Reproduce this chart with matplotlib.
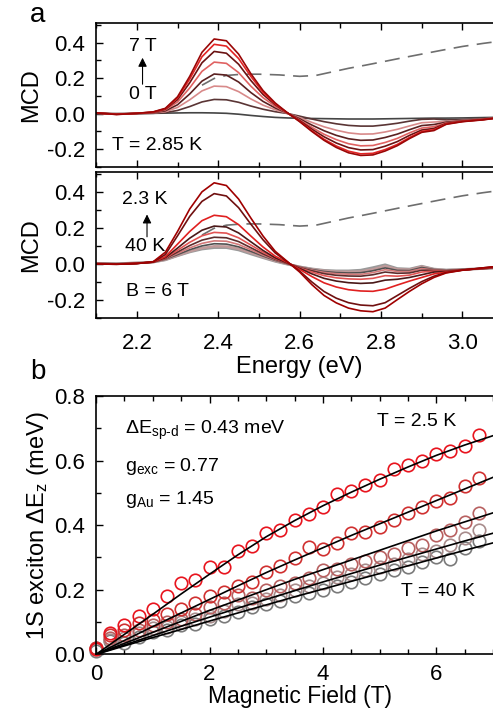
import numpy as np
import matplotlib
matplotlib.use("Agg")
import matplotlib.pyplot as plt
from matplotlib.ticker import MultipleLocator

plt.rcParams['font.family'] = ['Liberation Sans', 'DejaVu Sans']
plt.rcParams['mathtext.fontset'] = 'custom'
plt.rcParams['mathtext.rm'] = 'Liberation Sans'
plt.rcParams['mathtext.it'] = 'Liberation Sans:italic'

# ---- data ----
energy = [2.10, 2.15, 2.20, 2.24, 2.27, 2.30, 2.33, 2.36, 2.39, 2.42, 2.45,
          2.48, 2.51, 2.54, 2.57, 2.60, 2.63, 2.66, 2.69, 2.72, 2.75, 2.78,
          2.81, 2.84, 2.87, 2.90, 2.93, 2.96, 3.00, 3.05, 3.10]

# panel a, T = 2.85 K, B = 0 ... 7 T
mcd_0T = [0.0, 0.0, 0.0, 0.002, 0.003, 0.004, 0.005, 0.005, 0.004, 0.002, -0.003,
          -0.01, -0.016, -0.021, -0.024, -0.026, -0.027, -0.028, -0.029, -0.03, -0.03, -0.03,
          -0.029, -0.028, -0.027, -0.026, -0.025, -0.025, -0.024, -0.022, -0.02]
mcd_1T = [0.001, 0.0, 0.001, 0.002, 0.006, 0.018, 0.04, 0.066, 0.08, 0.078, 0.064,
          0.043, 0.025, 0.011, 0.001, -0.014, -0.03, -0.045, -0.057, -0.066, -0.07, -0.07,
          -0.063, -0.054, -0.042, -0.032, -0.03, -0.035, -0.033, -0.028, -0.02]
mcd_2T = [0.002, -0.001, 0.001, 0.004, 0.011, 0.035, 0.078, 0.128, 0.155, 0.152, 0.124,
          0.083, 0.048, 0.022, 0.002, -0.022, -0.049, -0.074, -0.093, -0.108, -0.115, -0.114,
          -0.103, -0.088, -0.069, -0.051, -0.047, -0.044, -0.038, -0.03, -0.02]
mcd_3T = [0.003, -0.002, 0.001, 0.005, 0.016, 0.05, 0.111, 0.183, 0.223, 0.217, 0.178,
          0.119, 0.069, 0.032, 0.003, -0.029, -0.064, -0.096, -0.122, -0.141, -0.15, -0.148,
          -0.134, -0.115, -0.09, -0.067, -0.061, -0.048, -0.04, -0.031, -0.02]
mcd_4T = [0.003, -0.002, 0.001, 0.007, 0.021, 0.066, 0.145, 0.238, 0.29, 0.283, 0.231,
          0.155, 0.09, 0.041, 0.003, -0.035, -0.077, -0.116, -0.146, -0.169, -0.181, -0.179,
          -0.162, -0.139, -0.108, -0.081, -0.073, -0.052, -0.042, -0.032, -0.02]
mcd_5T = [0.004, -0.003, 0.002, 0.008, 0.025, 0.079, 0.174, 0.286, 0.35, 0.34, 0.278,
          0.187, 0.108, 0.05, 0.004, -0.039, -0.087, -0.13, -0.165, -0.191, -0.204, -0.202,
          -0.183, -0.157, -0.122, -0.092, -0.083, -0.055, -0.043, -0.033, -0.02]
mcd_6T = [0.004, -0.004, 0.002, 0.009, 0.028, 0.088, 0.195, 0.32, 0.39, 0.38, 0.31,
          0.21, 0.12, 0.055, 0.004, -0.043, -0.096, -0.144, -0.182, -0.211, -0.226, -0.223,
          -0.202, -0.173, -0.134, -0.1, -0.09, -0.058, -0.044, -0.034, -0.02]
mcd_7T = [0.005, -0.005, 0.002, 0.01, 0.03, 0.095, 0.21, 0.345, 0.42, 0.41, 0.335,
          0.225, 0.13, 0.06, 0.005, -0.045, -0.1, -0.15, -0.19, -0.22, -0.235, -0.232,
          -0.21, -0.18, -0.14, -0.105, -0.095, -0.06, -0.045, -0.035, -0.02]
field_curves = [mcd_0T, mcd_1T, mcd_2T, mcd_3T, mcd_4T, mcd_5T, mcd_6T, mcd_7T]
field_colors = ['#454545', '#5a3535', '#d88a8a', '#5a2020', '#e06262',
                '#6a1212', '#e22424', '#9a0606']

# panel a, B = 6 T, T = 2.3 K ... 40 K
mcd_t1 = [0.0, -0.002, 0.002, 0.012, 0.065, 0.18, 0.305, 0.40, 0.45, 0.435, 0.36,
          0.255, 0.155, 0.07, 0.013, -0.045, -0.115, -0.175, -0.216, -0.245, -0.26, -0.265,
          -0.245, -0.198, -0.152, -0.11, -0.075, -0.05, -0.035, -0.022, -0.01]
mcd_t2 = [0.0, -0.002, 0.002, 0.011, 0.052, 0.156, 0.264, 0.347, 0.39, 0.377, 0.312,
          0.221, 0.134, 0.061, 0.011, -0.04, -0.1, -0.153, -0.19, -0.215, -0.228, -0.232,
          -0.215, -0.175, -0.135, -0.098, -0.068, -0.048, -0.034, -0.022, -0.01]
mcd_t3 = [0.0, -0.001, 0.003, 0.01, 0.04, 0.11, 0.18, 0.24, 0.27, 0.262, 0.218,
          0.155, 0.094, 0.043, 0.008, -0.03, -0.07, -0.105, -0.128, -0.143, -0.15, -0.152,
          -0.14, -0.117, -0.095, -0.075, -0.055, -0.045, -0.034, -0.024, -0.012]
mcd_t4 = [0.001, -0.001, 0.003, 0.01, 0.035, 0.088, 0.143, 0.187, 0.21, 0.205, 0.172,
          0.123, 0.075, 0.034, 0.005, -0.025, -0.055, -0.08, -0.095, -0.104, -0.108, -0.105,
          -0.09, -0.085, -0.075, -0.06, -0.045, -0.042, -0.034, -0.025, -0.014]
mcd_t5 = [0.002, -0.001, 0.004, 0.01, 0.032, 0.076, 0.12, 0.156, 0.175, 0.171, 0.145,
          0.105, 0.065, 0.03, 0.004, -0.022, -0.045, -0.065, -0.077, -0.083, -0.085, -0.08,
          -0.065, -0.068, -0.062, -0.045, -0.04, -0.04, -0.033, -0.026, -0.016]
mcd_t6 = [0.002, 0.0, 0.004, 0.01, 0.03, 0.066, 0.102, 0.132, 0.148, 0.145, 0.124,
          0.09, 0.056, 0.026, 0.003, -0.02, -0.038, -0.054, -0.063, -0.067, -0.068, -0.06,
          -0.045, -0.052, -0.05, -0.035, -0.036, -0.038, -0.032, -0.026, -0.017]
mcd_t7 = [0.003, 0.0, 0.005, 0.01, 0.028, 0.058, 0.089, 0.114, 0.128, 0.126, 0.108,
          0.079, 0.049, 0.023, 0.002, -0.018, -0.034, -0.047, -0.054, -0.057, -0.058, -0.048,
          -0.032, -0.042, -0.042, -0.026, -0.033, -0.037, -0.032, -0.026, -0.018]
mcd_t8 = [0.003, 0.001, 0.005, 0.01, 0.026, 0.052, 0.079, 0.1, 0.112, 0.11, 0.095,
          0.07, 0.044, 0.02, 0.001, -0.017, -0.031, -0.042, -0.048, -0.05, -0.049, -0.038,
          -0.022, -0.036, -0.037, -0.02, -0.031, -0.036, -0.031, -0.026, -0.019]
mcd_t9 = [0.004, 0.001, 0.006, 0.01, 0.024, 0.047, 0.07, 0.088, 0.098, 0.097, 0.084,
          0.062, 0.039, 0.017, 0.0, -0.016, -0.029, -0.038, -0.043, -0.044, -0.042, -0.03,
          -0.012, -0.03, -0.032, -0.015, -0.03, -0.035, -0.031, -0.026, -0.02]
mcd_t10 = [0.004, 0.002, 0.006, 0.01, 0.022, 0.045, 0.066, 0.082, 0.09, 0.09, 0.077,
           0.055, 0.034, 0.014, -0.002, -0.016, -0.027, -0.035, -0.038, -0.038, -0.034, -0.02,
           -0.004, -0.025, -0.028, -0.012, -0.028, -0.033, -0.03, -0.026, -0.021]
temp_curves = [mcd_t1, mcd_t2, mcd_t3, mcd_t4, mcd_t5, mcd_t6, mcd_t7,
               mcd_t8, mcd_t9, mcd_t10]
temp_colors = ['#a00000', '#701010', '#e02020', '#4a1818', '#e25454',
               '#5c2c2c', '#d47a7a', '#505050', '#c09a9a', '#9a9a9a']

# dashed absorption-like trace
abs_energy = [2.36, 2.39, 2.42, 2.46, 2.50, 2.55, 2.60, 2.64, 2.68, 2.72, 2.76,
              2.80, 2.85, 2.90, 2.95, 3.00, 3.05, 3.10]
abs_value = [0.16, 0.198, 0.215, 0.222, 0.222, 0.218, 0.21, 0.215, 0.235, 0.255, 0.272,
             0.29, 0.313, 0.335, 0.357, 0.378, 0.395, 0.41]

# panel b
field = [0, 0.25, 0.5, 0.75, 1.0, 1.25, 1.5, 1.75, 2.0, 2.25, 2.5, 2.75, 3.0, 3.25,
         3.5, 3.75, 4.0, 4.25, 4.5, 4.75, 5.0, 5.25, 5.5, 5.75, 6.0, 6.25, 6.5, 6.75]
dez_1 = [0.015, 0.065, 0.09, 0.12, 0.14, 0.18, 0.22, 0.23, 0.27, 0.27, 0.32, 0.335,
         0.375, 0.385, 0.415, 0.435, 0.455, 0.495, 0.505, 0.525, 0.54, 0.575, 0.585,
         0.60, 0.62, 0.63, 0.645, 0.68]
dez_2 = [0.02, 0.06, 0.075, 0.096, 0.106, 0.125, 0.14, 0.158, 0.18, 0.194, 0.21, 0.225,
         0.254, 0.274, 0.297, 0.331, 0.325, 0.344, 0.375, 0.38, 0.395, 0.416, 0.439,
         0.457, 0.475, 0.483, 0.522, 0.547]
dez_3 = [0.02, 0.05, 0.06, 0.075, 0.09, 0.1, 0.11, 0.125, 0.145, 0.16, 0.185, 0.175,
         0.2, 0.21, 0.22, 0.235, 0.26, 0.265, 0.28, 0.29, 0.3, 0.31, 0.33, 0.34, 0.37,
         0.385, 0.41, 0.437]
dez_4 = [0.015, 0.045, 0.05, 0.065, 0.08, 0.085, 0.1, 0.11, 0.12, 0.135, 0.155, 0.16,
         0.17, 0.185, 0.2, 0.21, 0.22, 0.24, 0.25, 0.26, 0.27, 0.28, 0.295, 0.31, 0.32,
         0.34, 0.36, 0.385]
dez_5 = [0.01, 0.04, 0.035, 0.055, 0.07, 0.075, 0.09, 0.095, 0.11, 0.12, 0.13, 0.145,
         0.155, 0.165, 0.18, 0.19, 0.2, 0.21, 0.225, 0.235, 0.25, 0.26, 0.27, 0.285, 0.3,
         0.295, 0.33, 0.35]
dez_series = [dez_1, dez_2, dez_3, dez_4, dez_5]
dez_colors = ['#e8141e', '#d03030', '#b86060', '#a88c8c', '#7a7a7a']

fit_field = [0, 0.5, 1, 1.5, 2, 2.5, 3, 3.5, 4, 4.5, 5, 5.5, 6, 6.5, 7, 7.2]
fit_1 = [0, 0.062, 0.124, 0.187, 0.248, 0.308, 0.364, 0.414, 0.46, 0.502, 0.542,
         0.58, 0.616, 0.648, 0.677, 0.688]
fit_2 = [0, 0.043, 0.086, 0.128, 0.17, 0.212, 0.253, 0.292, 0.33, 0.368, 0.404,
         0.44, 0.476, 0.512, 0.548, 0.562]
fit_3 = [0, 0.034, 0.068, 0.102, 0.136, 0.168, 0.2, 0.232, 0.262, 0.292, 0.322,
         0.352, 0.382, 0.41, 0.438, 0.45]
fit_4 = [0, 0.029, 0.058, 0.087, 0.115, 0.143, 0.17, 0.197, 0.224, 0.25, 0.276,
         0.301, 0.326, 0.351, 0.375, 0.385]
fit_5 = [0, 0.026, 0.052, 0.077, 0.103, 0.128, 0.153, 0.178, 0.202, 0.226, 0.25,
         0.274, 0.298, 0.322, 0.345, 0.354]
fits = [fit_1, fit_2, fit_3, fit_4, fit_5]

# ---- figure ----
fig = plt.figure(figsize=(4.93, 7.14), dpi=100)
left, width = 0.195, 0.8256
ax1 = fig.add_axes([left, 0.7661, width, 0.2017])
ax2 = fig.add_axes([left, 0.5546, width, 0.2045])
ax3 = fig.add_axes([left, 0.0836, width, 0.3618])

TICK = 16
LAB = 17
ANN = 14


def style(ax):
    ax.tick_params(which='both', direction='in', top=True, right=True,
                   labelsize=TICK, width=1.0)
    ax.tick_params(axis='y', which='both', pad=8)
    ax.tick_params(axis='x', which='both', pad=8)
    ax.tick_params(which='major', length=5)
    ax.tick_params(which='minor', length=3.5)
    for s in ax.spines.values():
        s.set_linewidth(1.2)


for ax in (ax1, ax2):
    ax.set_xlim(2.1, 3.1)
    ax.set_ylim(-0.3, 0.51)
    ax.xaxis.set_major_locator(MultipleLocator(0.2))
    ax.xaxis.set_minor_locator(MultipleLocator(0.1))
    ax.yaxis.set_major_locator(MultipleLocator(0.2))
    ax.yaxis.set_minor_locator(MultipleLocator(0.1))
    ax.set_yticks([-0.2, 0.0, 0.2, 0.4])
    ax.set_yticklabels(['-0.2', '0.0', '0.2', '0.4'])
    ax.set_ylabel('MCD', fontsize=LAB, labelpad=3)
    style(ax)
    ax.plot(abs_energy, abs_value, color='#6e6e6e', lw=1.2, dashes=(9, 5))

ax1.tick_params(labelbottom=False)

for y, c in zip(field_curves, field_colors):
    ax1.plot(energy, y, color=c, lw=1.2)
for i, (y, c) in enumerate(zip(temp_curves[::-1], temp_colors[::-1])):
    ax2.plot(energy, y, color=c, lw=1.8 if i < 2 else 1.2)

ax2.set_xticks([2.2, 2.4, 2.6, 2.8, 3.0])
ax2.set_xticklabels(['2.2', '2.4', '2.6', '2.8', '3.0'])
ax2.tick_params(axis='x', pad=11)
ax2.set_xlabel('Energy (eV)', fontsize=LAB, labelpad=1)

ax1.text(2.216, 0.38, '7 T', fontsize=ANN, ha='center', va='center')
ax1.text(2.214, 0.108, '0 T', fontsize=ANN, ha='center', va='center')
ax1.annotate('', xy=(2.214, 0.33), xytext=(2.214, 0.15),
             arrowprops=dict(arrowstyle='-|>', color='black', lw=0.8,
                             mutation_scale=13))
ax1.text(2.14, -0.18, 'T = 2.85 K', fontsize=ANN, ha='left', va='center')

ax2.text(2.22, 0.36, '2.3 K', fontsize=ANN, ha='center', va='center')
ax2.text(2.22, 0.098, '40 K', fontsize=ANN, ha='center', va='center')
ax2.annotate('', xy=(2.225, 0.29), xytext=(2.225, 0.135),
             arrowprops=dict(arrowstyle='-|>', color='black', lw=0.8,
                             mutation_scale=13))
ax2.text(2.173, -0.153, 'B = 6 T', fontsize=ANN, ha='left', va='center')

# panel b
ax3.set_xlim(0, 7.18)
ax3.set_ylim(0, 0.8)
ax3.xaxis.set_major_locator(MultipleLocator(2))
ax3.xaxis.set_minor_locator(MultipleLocator(0.5))
ax3.yaxis.set_major_locator(MultipleLocator(0.2))
ax3.yaxis.set_minor_locator(MultipleLocator(0.1))
ax3.set_yticks([0.0, 0.2, 0.4, 0.6, 0.8])
ax3.set_yticklabels(['0.0', '0.2', '0.4', '0.6', '0.8'])
style(ax3)
ax3.tick_params(axis='x', pad=7)
for y, c in list(zip(dez_series, dez_colors))[::-1]:
    ax3.plot(field, y, 'o', ms=9, mfc='none', mec=c, mew=1.2, clip_on=False)
for f in fits:
    ax3.plot(fit_field, f, color='black', lw=1.2)
ax3.set_xlabel('Magnetic Field (T)', fontsize=16.5, labelpad=0)
ax3.set_ylabel('1S exciton ΔE$_\\mathregular{z}$ (meV)', fontsize=LAB, labelpad=2)

ax3.text(0.51, 0.692, 'ΔE$_\\mathregular{sp\u2010d}$ = 0.43 meV', fontsize=ANN, va='center')
ax3.text(0.51, 0.581, 'g$_\\mathregular{exc}$ = 0.77', fontsize=ANN, va='center')
ax3.text(0.51, 0.478, 'g$_\\mathregular{Au}$ = 1.45', fontsize=ANN, va='center')
ax3.text(4.95, 0.722, 'T = 2.5 K', fontsize=ANN, va='center')
ax3.text(5.37, 0.194, 'T = 40 K', fontsize=ANN, va='center')

fig.text(0.077, 0.979, 'a', fontsize=20, ha='center', va='center')
fig.text(0.077, 0.479, 'b', fontsize=20, ha='center', va='center')

fig.savefig('out.png', dpi=100)
